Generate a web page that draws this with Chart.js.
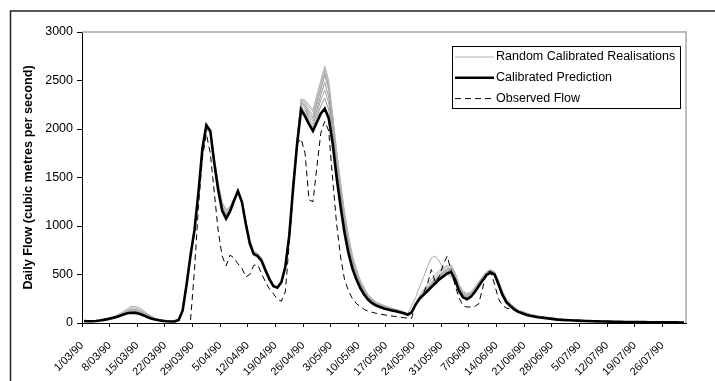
<!DOCTYPE html>
<html>
<head>
<meta charset="utf-8">
<script src="https://cdn.jsdelivr.net/npm/chart.js@4/dist/chart.umd.min.js"></script>
<style>
html,body{margin:0;padding:0;background:#fff;}
#wrap{position:relative;width:715px;height:381px;}
</style>
</head>
<body>
<div id="wrap"><canvas id="c" width="715" height="381"></canvas></div>
<script>
// ---- DATA ----
// x-axis tick labels (weekly), day 0 = 1/03/90
const tickLabels = ['1/03/90','8/03/90','15/03/90','22/03/90','29/03/90','5/04/90','12/04/90','19/04/90','26/04/90','3/05/90','10/05/90','17/05/90','24/05/90','31/05/90','7/06/90','14/06/90','21/06/90','28/06/90','5/07/90','12/07/90','19/07/90','26/07/90'];

// Calibrated prediction, one value per day from 1/03/90 (153 days)
const predicted = [
20,18,18,20,25,32,40,50,60,72,
88,100,106,104,95,80,62,47,36,28,
22,18,15,15,30,130,400,700,960,1350,
1800,2040,1980,1650,1370,1160,1075,1150,1260,1360,
1250,1020,820,710,690,640,540,450,380,365,
420,580,900,1400,1850,2200,2130,2050,1980,2070,
2160,2210,2110,1850,1500,1200,930,720,560,450,
360,290,240,205,180,165,150,140,130,120,
110,100,85,110,190,250,290,330,370,410,
450,480,510,525,445,330,265,245,270,320,
380,440,495,520,500,400,290,215,175,140,
115,100,85,75,68,60,55,50,45,40,
35,32,30,28,26,24,22,20,19,18,
17,16,15,14,13,12,12,11,11,10,
10,9,9,8,8,7,7,7,6,6,
6,5,5];

// Observed flow, one value per day (no record before 28/03/90)
const observed = [
null,null,null,null,null,null,null,null,null,null,
null,null,null,null,null,null,null,null,null,null,
null,null,null,null,null,null,null,30,550,1200,
1700,1950,1750,1350,950,690,590,700,670,610,
565,475,500,595,600,510,420,350,300,245,
225,320,820,1350,1850,1900,1750,1270,1250,1610,
1960,2080,1980,1480,1020,680,450,330,250,200,
168,140,120,110,100,92,85,78,72,66,
60,55,50,48,200,250,310,400,550,420,
480,600,690,540,390,260,180,165,165,170,
200,360,530,530,400,250,180,155,145,135,
115,98,84,74,66,59,53,48,43,39,
34,31,29,27,25,23,21,19,18,17,
16,15,14,13,12,12,11,10,10,9,
9,8,8,7,7,7,6,6,6,5,
5,5,5];

// Days at which the random realisations were read
const realDays = [
0,4,8,10,12,14,16,18,21,24,
25,26,27,28,29,30,31,32,33,34,
35,36,37,38,39,40,41,42,43,44,
45,46,47,48,49,50,51,52,53,54,
55,56,57,58,59,60,61,62,63,64,
65,66,67,68,69,70,72,74,77,80,
82,83,84,85,86,87,88,89,90,91,
92,93,94,95,96,97,98,99,100,101,
102,103,104,105,106,107,108,110,113,117,
122,130,140,152];

const real1 = [
22,28,75,120,175,160,100,50,20,30,
125,390,690,950,1330,1770,1990,1960,1700,1450,
1250,1170,1200,1290,1330,1240,1050,860,740,720,
670,570,470,390,370,420,580,920,1450,1900,
2310,2300,2250,2200,2350,2500,2650,2500,2150,1780,
1450,1150,900,700,560,440,290,215,165,130,
100,115,200,270,320,370,420,470,520,560,
590,595,520,400,330,305,320,370,430,480,
530,550,530,440,330,250,200,135,90,58,
36,20,12,6];
const real2 = [
20,26,65,100,140,125,80,42,18,30,
128,395,695,955,1340,1785,2010,1970,1680,1420,
1200,1130,1180,1280,1340,1245,1040,845,730,705,
655,555,460,385,368,420,580,910,1420,1880,
2280,2250,2150,2100,2250,2400,2550,2400,2080,1700,
1380,1080,840,650,520,410,270,200,155,122,
95,180,260,370,470,580,670,690,640,550,
505,475,425,345,285,270,290,340,400,455,
510,535,515,420,305,230,185,125,82,54,
33,19,11,5];
const real3 = [
21,26,62,95,125,112,72,40,18,30,
130,398,698,958,1345,1790,2020,1975,1670,1400,
1185,1110,1170,1270,1350,1250,1030,835,725,700,
650,550,455,382,366,420,580,905,1410,1870,
2260,2220,2120,2080,2200,2350,2480,2330,2020,1650,
1330,1050,810,630,500,395,262,195,150,118,
92,112,200,265,310,355,395,440,480,515,
545,560,480,365,295,270,290,340,400,460,
515,540,515,425,312,232,188,128,84,55,
34,19,11,5];
const real4 = [
20,25,60,92,115,105,68,38,18,30,
130,400,700,960,1348,1795,2025,1978,1660,1390,
1175,1100,1165,1265,1355,1250,1025,830,720,698,
648,548,455,382,366,420,580,902,1405,1860,
2240,2190,2100,2050,2160,2300,2400,2270,1980,1610,
1290,1010,780,605,485,385,255,190,147,116,
90,112,198,262,305,350,390,435,472,505,
535,550,470,355,288,262,285,335,395,455,
510,535,512,418,305,228,184,124,81,53,
32,18,11,5];
const real5 = [
20,25,62,98,135,120,78,42,18,30,
128,396,696,956,1342,1788,2015,1972,1690,1430,
1220,1150,1190,1280,1340,1240,1045,850,735,712,
662,562,465,388,370,422,582,915,1435,1890,
2295,2270,2200,2150,2300,2450,2600,2450,2110,1740,
1410,1110,870,675,540,425,280,208,160,126,
97,114,205,275,325,370,415,460,505,540,
570,580,500,385,315,290,305,355,420,470,
522,545,522,432,320,240,194,130,87,56,
35,20,12,6];
const real6 = [
20,25,61,90,110,100,65,37,18,30,
130,399,699,959,1349,1798,2030,1978,1655,1380,
1168,1088,1158,1262,1358,1250,1022,825,715,695,
645,545,452,381,365,420,580,901,1402,1855,
2220,2160,2080,2020,2120,2240,2320,2200,1920,1560,
1250,975,755,585,470,375,248,185,143,113,
88,111,195,258,300,342,382,425,465,495,
525,540,460,345,278,256,278,328,388,448,
503,528,506,410,298,222,180,120,78,52,
31,18,10,5];
const real7 = [
21,27,68,110,160,145,92,47,19,30,
126,392,692,952,1335,1778,2000,1965,1710,1440,
1235,1160,1195,1285,1335,1238,1048,855,738,716,
665,565,468,390,372,424,585,918,1440,1895,
2300,2280,2230,2180,2330,2480,2620,2470,2130,1760,
1430,1130,885,688,550,432,285,212,162,128,
98,118,210,285,340,400,450,500,540,570,
590,598,520,395,322,298,312,362,425,475,
525,548,525,436,325,245,197,132,88,57,
35,20,12,6];
const real8 = [
20,25,63,100,145,130,85,44,18,30,
129,397,697,957,1344,1792,2018,1974,1675,1410,
1195,1120,1175,1275,1345,1246,1035,840,728,703,
653,553,458,384,367,421,581,908,1415,1875,
2270,2240,2180,2120,2280,2420,2580,2420,2060,1690,
1360,1070,830,640,510,402,266,198,152,120,
93,113,202,268,315,360,400,445,490,525,
560,570,490,375,305,280,298,348,410,465,
518,542,518,428,315,235,190,127,85,55,
34,19,11,5];

const realisations = [real1, real2, real3, real4, real5, real6, real7, real8];
const seriesNames = ['Random Calibrated Realisations', 'Calibrated Prediction', 'Observed Flow'];

// ---- BUILD ----
const FONT = '"Liberation Sans", Arial, sans-serif';
Chart.defaults.font.family = FONT;
Chart.defaults.color = '#000';

const toPts = (xs, ys) => ys.map((v, i) => ({x: xs[i], y: v}));
const dayIdx = predicted.map((_, i) => i);

const datasets = [];
datasets.push({
  label: seriesNames[2], data: toPts(dayIdx, observed),
  borderColor: '#000', borderWidth: 1, borderDash: [6, 4],
  pointRadius: 0, tension: 0, order: 0, spanGaps: false
});
datasets.push({
  label: seriesNames[1], data: toPts(dayIdx, predicted),
  borderColor: '#000', borderWidth: 2.6,
  pointRadius: 0, tension: 0, order: 1
});
const greys = ['#b4b4b4','#aaaaaa','#9a9a9a','#a4a4a4','#bcbcbc','#999999','#b0b0b0','#a0a0a0'];
realisations.forEach((r, k) => {
  datasets.push({
    label: k === 0 ? seriesNames[0] : '', data: toPts(realDays, r),
    borderColor: greys[k], borderWidth: 1,
    pointRadius: 0, tension: 0, order: 2
  });
});

const framePlugin = {
  id: 'frame',
  beforeDraw(chart) {
    const ctx = chart.ctx;
    ctx.save();
    ctx.fillStyle = '#fff';
    ctx.fillRect(0, 0, chart.width, chart.height);
    ctx.strokeStyle = '#222';
    ctx.lineWidth = 1.5;
    ctx.beginPath();
    ctx.moveTo(10.5, chart.height + 2);
    ctx.lineTo(10.5, 11);
    ctx.lineTo(chart.width + 2, 11);
    ctx.stroke();
    ctx.restore();
  },
  beforeDatasetsDraw(chart) {
    const a = chart.chartArea, ctx = chart.ctx;
    ctx.save();
    ctx.strokeStyle = '#a8a8a8';
    ctx.lineWidth = 1.5;
    ctx.beginPath();
    ctx.moveTo(a.left, a.top);
    ctx.lineTo(a.right, a.top);
    ctx.lineTo(a.right, a.bottom);
    ctx.stroke();
    ctx.restore();
  }
};

const legendPlugin = {
  id: 'boxLegend',
  afterDraw(chart) {
    const ctx = chart.ctx;
    ctx.save();
    const bx = 452, by = 46, bw = 228, bh = 62;
    ctx.fillStyle = '#fff';
    ctx.fillRect(bx, by, bw, bh);
    ctx.strokeStyle = '#000';
    ctx.lineWidth = 1;
    ctx.strokeRect(bx + 0.5, by + 0.5, bw, bh);
    const items = [
      {label: seriesNames[0], color: '#b0b0b0', width: 1, dash: []},
      {label: seriesNames[1], color: '#000', width: 2.6, dash: []},
      {label: seriesNames[2], color: '#000', width: 1, dash: [6, 4]}
    ];
    ctx.font = '12.5px ' + FONT;
    ctx.textBaseline = 'middle';
    ctx.textAlign = 'left';
    items.forEach((it, i) => {
      const y = 57 + i * 20.8;
      ctx.beginPath();
      ctx.setLineDash(it.dash);
      ctx.strokeStyle = it.color;
      ctx.lineWidth = it.width;
      ctx.moveTo(455, y);
      ctx.lineTo(494, y);
      ctx.stroke();
      ctx.setLineDash([]);
      ctx.fillStyle = '#000';
      ctx.fillText(it.label, 496, y);
    });
    ctx.restore();
  }
};

new Chart(document.getElementById('c'), {
  type: 'line',
  data: {datasets},
  options: {
    responsive: false,
    animation: false,
    events: [],
    layout: {padding: {left: 0, top: 32, right: 29, bottom: 0}},
    plugins: {legend: {display: false}, tooltip: {enabled: false}},
    scales: {
      x: {
        type: 'linear',
        min: -0.5, max: 152.5,
        afterFit(s) { s.height = 58; },
        afterBuildTicks(s) { s.ticks = tickLabels.map((_, k) => ({value: -0.5 + 7 * k})); },
        grid: {drawOnChartArea: false, drawTicks: true, tickLength: 4, color: '#000', lineWidth: 1},
        border: {display: true, color: '#000', width: 1},
        ticks: {
          autoSkip: false, minRotation: 45, maxRotation: 45, padding: 12,
          font: {size: 11}, color: '#000',
          callback: (v, i) => tickLabels[i]
        }
      },
      y: {
        type: 'linear',
        min: 0, max: 3000,
        afterFit(s) { s.width = 82; },
        grid: {drawOnChartArea: false, drawTicks: true, tickLength: 5, color: '#000', lineWidth: 1},
        border: {display: true, color: '#000', width: 1},
        ticks: {stepSize: 500, padding: 4, font: {size: 12.5}, color: '#000', callback: (v) => String(v)},
        title: {
          display: true, text: 'Daily Flow (cubic metres per second)',
          font: {size: 12.7, weight: 'bold'}, color: '#000',
          padding: {top: 21, bottom: 0}
        }
      }
    }
  },
  plugins: [framePlugin, legendPlugin]
});
</script>
</body>
</html>
